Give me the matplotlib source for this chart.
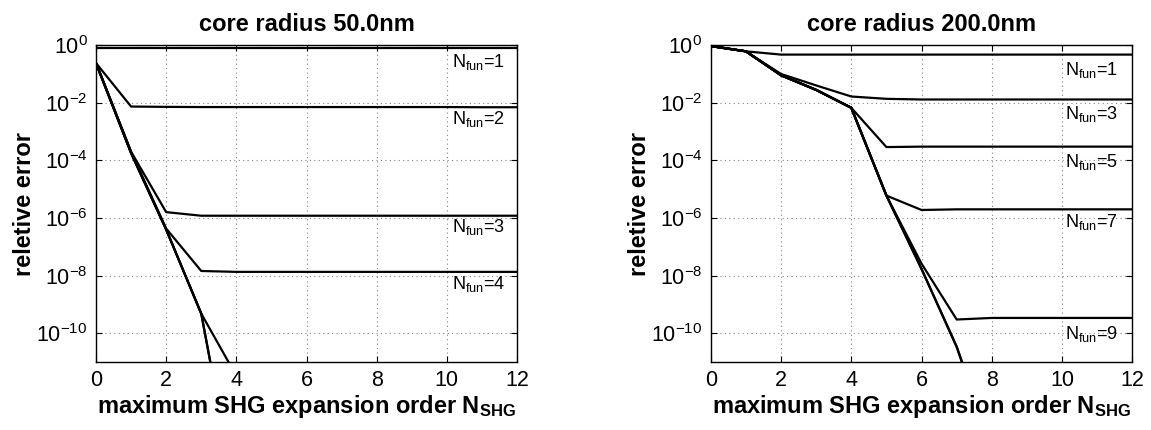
import matplotlib
matplotlib.use('Agg')
import matplotlib.pyplot as plt

plt.rcParams['font.family'] = ['Liberation Sans', 'DejaVu Sans']
plt.rcParams['mathtext.fontset'] = 'custom'
plt.rcParams['mathtext.rm'] = 'Liberation Sans'
plt.rcParams['mathtext.it'] = 'Liberation Sans:italic'
plt.rcParams['mathtext.bf'] = 'Liberation Sans:bold'

order = [0, 1, 2, 3, 4, 5, 6, 7, 8, 9, 10, 11, 12]

# core radius 50 nm
small_n1 = [0.82, 0.82, 0.82, 0.82, 0.82, 0.82, 0.82, 0.82, 0.82, 0.82, 0.82, 0.82, 0.82]
small_n2 = [0.24, 7.4e-3, 7.2e-3, 7.1e-3, 7.1e-3, 7.1e-3, 7.1e-3, 7.1e-3, 7.1e-3, 7.1e-3, 7.1e-3, 7.0e-3, 7.0e-3]
small_n3 = [0.24, 2.0e-4, 1.6e-6, 1.2e-6, 1.2e-6, 1.2e-6, 1.2e-6, 1.2e-6, 1.2e-6, 1.2e-6, 1.2e-6, 1.2e-6, 1.2e-6]
small_n4 = [0.24, 2.0e-4, 4.3e-7, 1.45e-8, 1.35e-8, 1.35e-8, 1.35e-8, 1.35e-8, 1.35e-8, 1.35e-8, 1.35e-8, 1.35e-8, 1.35e-8]
small_n5 = [0.24, 1.8e-4, 4.0e-7, 4.8e-10, 3.3e-12, 3.0e-12, 3.0e-12, 3.0e-12, 3.0e-12, 3.0e-12, 3.0e-12, 3.0e-12, 3.0e-12]
small_n6 = [0.24, 1.8e-4, 4.0e-7, 4.8e-10, 1.6e-16, 1e-16, 1e-16, 1e-16, 1e-16, 1e-16, 1e-16, 1e-16, 1e-16]
small_n7 = [0.24, 1.8e-4, 4.0e-7, 4.8e-10, 1.4e-16, 1e-16, 1e-16, 1e-16, 1e-16, 1e-16, 1e-16, 1e-16, 1e-16]
small_labels = ['1', '2', '3', '4']
small_label_y = [0.18, 1.86e-3, 3.2e-7, 3.5e-9]

# core radius 200 nm
big_n1 = [0.93, 0.61, 0.47, 0.47, 0.47, 0.47, 0.47, 0.47, 0.47, 0.47, 0.47, 0.47, 0.47]
big_n3 = [0.93, 0.61, 0.10, 0.04, 0.0165, 0.0137, 0.013, 0.013, 0.013, 0.013, 0.013, 0.013, 0.013]
big_n5 = [0.93, 0.61, 0.09, 0.028, 6.7e-3, 2.9e-4, 3.0e-4, 3.0e-4, 3.0e-4, 3.0e-4, 3.0e-4, 3.0e-4, 3.0e-4]
big_n7 = [0.93, 0.61, 0.09, 0.028, 6.7e-3, 6.0e-6, 1.9e-6, 2.0e-6, 2.0e-6, 2.0e-6, 2.0e-6, 2.0e-6, 2.0e-6]
big_n9 = [0.93, 0.61, 0.09, 0.028, 6.7e-3, 6.0e-6, 2.6e-8, 3.0e-10, 3.4e-10, 3.4e-10, 3.4e-10, 3.4e-10, 3.4e-10]
big_n11 = [0.93, 0.61, 0.09, 0.028, 6.7e-3, 6.0e-6, 1.7e-8, 3.5e-11, 1e-14, 1e-15, 1e-15, 1e-15, 1e-15]
big_n13 = [0.93, 0.61, 0.09, 0.028, 6.7e-3, 6.0e-6, 1.7e-8, 3.3e-11, 1e-14, 1e-15, 1e-15, 1e-15, 1e-15]
big_labels = ['1', '3', '5', '7', '9']
big_label_y = [0.095, 2.8e-3, 5.9e-5, 4.8e-7, 6.5e-11]

yticks = [1e0, 1e-2, 1e-4, 1e-6, 1e-8, 1e-10]
ytick_labels = ['$10^{0}$', '$10^{-2}$', '$10^{-4}$', '$10^{-6}$', '$10^{-8}$', '$10^{-10}$']


def draw(ax, series, labels, label_y, label_x, title):
    for s in series:
        ax.plot(order, s, color='black', lw=1.6)
    ax.set_yscale('log')
    ax.set_xlim(0, 12)
    ax.set_ylim(1e-11, 1)
    ax.set_xticks(range(0, 13, 2))
    ax.set_yticks(yticks)
    ax.set_yticklabels(ytick_labels)
    ax.minorticks_off()
    ax.tick_params(direction='in', top=True, right=True, labelsize=15.5, length=4, pad=6)
    ax.grid(True, linestyle=(0, (1, 3)), color='#808080', lw=0.8)
    for sp in ax.spines.values():
        sp.set_linewidth(1.0)
    for lab, y in zip(labels, label_y):
        ax.text(label_x, y, r'N$_{\mathrm{fun}}$=' + lab, fontsize=13, va='baseline', ha='left')
    ax.set_title(title, fontsize=17, fontweight='bold', pad=10)
    ax.set_xlabel(r'maximum SHG expansion order N$_{\mathbf{SHG}}$', fontsize=17, fontweight='bold', labelpad=1)
    ax.set_ylabel('reletive error', fontsize=17, fontweight='bold', labelpad=0)


fig = plt.figure(figsize=(11.51, 4.30), dpi=100)
ax1 = fig.add_axes([0.0834, 0.158, 0.3658, 0.737])
ax2 = fig.add_axes([0.6175, 0.158, 0.3663, 0.737])

draw(ax1, [small_n1, small_n2, small_n3, small_n4, small_n5, small_n6, small_n7],
     small_labels, small_label_y, 10.15, 'core radius 50.0nm')
draw(ax2, [big_n1, big_n3, big_n5, big_n7, big_n9, big_n11, big_n13],
     big_labels, big_label_y, 10.08, 'core radius 200.0nm')

fig.savefig('out.png', dpi=100)
